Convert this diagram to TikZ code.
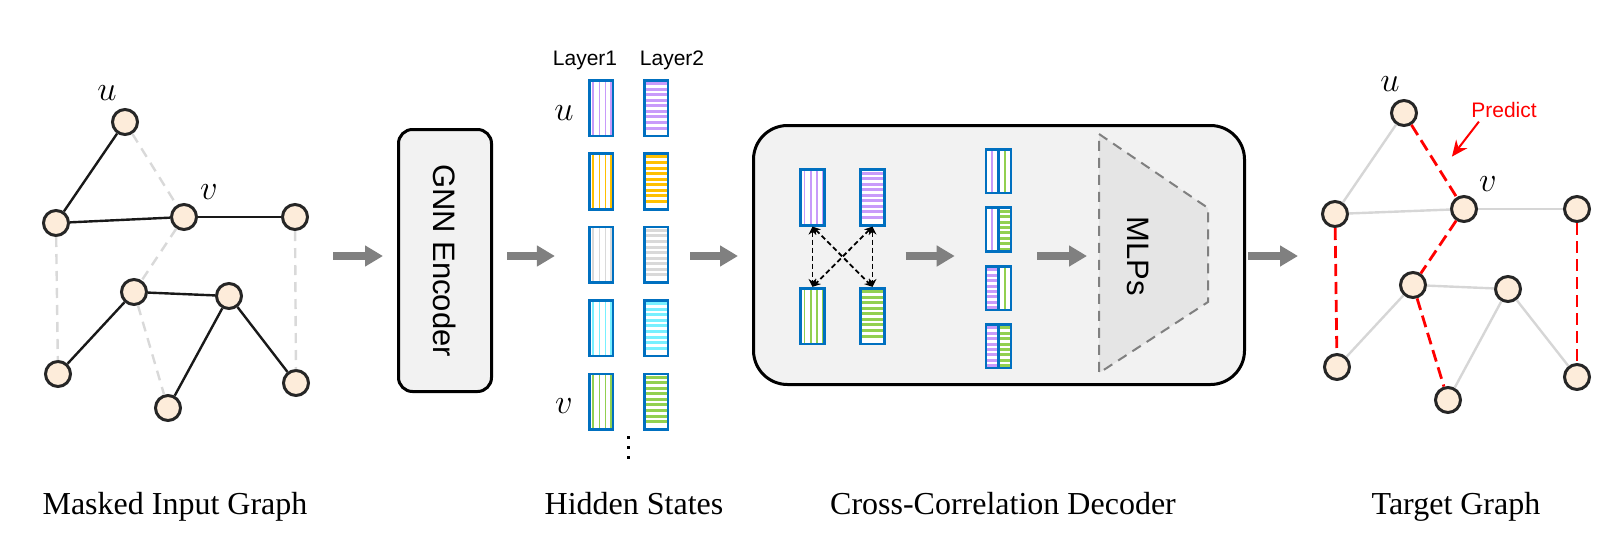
\documentclass[tikz,border=0pt]{standalone}
\usepackage{fontspec}
\setmainfont{Liberation Serif}
\setsansfont{Liberation Sans}
\usepackage{tikz}
\usetikzlibrary{arrows.meta, calc}
\definecolor{vecblue}{RGB}{0,112,192}
\definecolor{lpurple}{RGB}{200,155,250}
\definecolor{lorange}{RGB}{255,192,0}
\definecolor{lgray}{RGB}{217,217,217}
\definecolor{lcyan}{RGB}{120,240,255}
\definecolor{lgreen}{RGB}{146,208,80}
\definecolor{nodefill}{RGB}{253,236,218}
\definecolor{boxfill}{RGB}{242,242,242}
\definecolor{mlpfill}{RGB}{229,229,229}
\definecolor{pfeilgray}{RGB}{128,128,128}
\definecolor{edgegray}{RGB}{214,214,214}
\definecolor{predred}{RGB}{255,0,0}

\tikzset{
  gnode/.style={circle, draw=black!85, line width=1.5pt, fill=nodefill, minimum size=12.5pt, inner sep=0pt},
  solidedge/.style={line width=1.2pt, black!90},
  maskedge/.style={line width=1.2pt, lgray, dash pattern=on 5pt off 3.5pt},
  keptedge/.style={line width=1.2pt, edgegray},
  prededge/.style={line width=1.4pt, predred, dash pattern=on 6pt off 3pt},
  mathlabel/.style={inner sep=0pt, font=\fontsize{17}{20}\selectfont},
  vec/.style={draw=vecblue, line width=1.3pt, fill=white, minimum width=11.8pt, minimum height=27.8pt, inner sep=0pt},
  vstripe/.style={vec, path picture={
      \foreach \f in {0.16,0.43,0.69,0.92}
        \draw[#1, line width=0.8pt] ($(path picture bounding box.north west)!\f!(path picture bounding box.north east)$) -- ($(path picture bounding box.south west)!\f!(path picture bounding box.south east)$);
    }},
  hstripe/.style={vec, path picture={
      \foreach \f in {0.06,0.16,...,0.96}
        \draw[#1, line width=1.5pt] ($(path picture bounding box.north west)!\f!(path picture bounding box.south west)$) -- ($(path picture bounding box.north east)!\f!(path picture bounding box.south east)$);
    }},
  half/.style={vec, minimum width=6pt, minimum height=21.8pt},
  vone/.style={half, path picture={
      \draw[#1, line width=0.8pt] (path picture bounding box.north) -- (path picture bounding box.south);
    }},
  hhalf/.style={half, path picture={
      \foreach \f in {0.08,0.205,...,0.96}
        \draw[#1, line width=1.5pt] ($(path picture bounding box.north west)!\f!(path picture bounding box.south west)$) -- ($(path picture bounding box.north east)!\f!(path picture bounding box.south east)$);
    }},
  encbox/.style={draw=black, line width=1.5pt, fill=boxfill, rounded corners=7pt, inner sep=0pt},
  sanslabel/.style={font=\sffamily\fontsize{15.5}{18}\selectfont, inner sep=0pt},
  smalllabel/.style={font=\sffamily\fontsize{10.5}{13}\selectfont, inner sep=0pt, anchor=base},
  caption/.style={font=\fontsize{16}{19}\selectfont, inner sep=0pt, anchor=base},
  bigarrow/.style={pfeilgray, line width=4pt, -{Triangle[length=9pt, width=10pt]}},
  crossarrow/.style={black, line width=0.9pt, dash pattern=on 2.5pt off 1.5pt, {Stealth[length=4pt, width=4pt]}-{Stealth[length=4pt, width=4pt]}},
  predarrow/.style={predred, line width=1pt, -{Stealth[length=8pt, width=7pt]}},
}

\begin{document}
\begin{tikzpicture}[x=0.5pt, y=-0.5pt]
    \useasboundingbox (0,0) rectangle (1622,552);
    \coordinate (axis) at (0,256);

    % masked input graph
    \node[gnode] (lu) at (125,122) {};
    \node[gnode] (la) at (56,223) {};
    \node[gnode] (lv) at (184,217) {};
    \node[gnode] (lr) at (295,217) {};
    \node[gnode] (lm) at (134,292) {};
    \node[gnode] (ln) at (229,296) {};
    \node[gnode] (lbl) at (58,374) {};
    \node[gnode] (lbm) at (168,408) {};
    \node[gnode] (lbr) at (296,383) {};
    \node[mathlabel] (lulab) at (107,93) {$u$};
    \node[mathlabel] (lvlab) at (209,192) {$v$};
    \draw[solidedge] (lu) -- (la);
    \draw[solidedge] (la) -- (lv);
    \draw[solidedge] (lv) -- (lr);
    \draw[solidedge] (lm) -- (ln);
    \draw[solidedge] (lbl) -- (lm);
    \draw[solidedge] (ln) -- (lbm);
    \draw[solidedge] (ln) -- (lbr);
    \draw[maskedge] (lu) -- (lv);
    \draw[maskedge] (la) -- (lbl);
    \draw[maskedge] (lv) -- (lm);
    \draw[maskedge] (lm) -- (lbm);
    \draw[maskedge] (lr) -- (lbr);

    % encoder
    \node[encbox, minimum width=46.5pt, minimum height=131pt] (gnn) at (445,260.5) {};
    \node[sanslabel, rotate=-90] (gnntext) at (gnn) {GNN Encoder};
    \draw[bigarrow, shorten <=12pt, shorten >=7pt] (lr.east |- axis) -- (gnn.west |- axis);

    % hidden states
    \foreach \c [count=\i] in {lpurple,lorange,lgray,lcyan,lgreen} {
        \node[vstripe=\c] (h\i a) at (601,{108+73.4*(\i-1)}) {};
        \node[hstripe=\c] (h\i b) at (656,{108+73.4*(\i-1)}) {};
    }
    \node[smalllabel] (lay1) at (585,65) {Layer1};
    \node[smalllabel] (lay2) at (672,65) {Layer2};
    \node[mathlabel] (hulab) at (564,113) {$u$};
    \node[mathlabel] (hvlab) at (564,406) {$v$};
    \foreach \y in {437,447,457}
        \fill (628,\y) +(-1.5,-1.5) rectangle +(1.5,1.5);
    \draw[bigarrow, shorten <=7pt, shorten >=16.5pt] (gnn.east |- axis) -- (h3a.west |- axis);

    % cross-correlation decoder
    \node[encbox, rounded corners=17pt, minimum width=245.5pt, minimum height=129.5pt] (dec) at (999,255) {};
    \draw[bigarrow, shorten <=10.5pt, shorten >=7pt] (h3b.east |- axis) -- (dec.west |- axis);
    \node[vstripe=lpurple] (da) at (812.5,197.5) {};
    \node[hstripe=lpurple] (db) at (872.5,197.5) {};
    \node[vstripe=lgreen] (dc) at (812.5,316) {};
    \node[hstripe=lgreen] (dd) at (872.5,316) {};
    \draw[crossarrow] (da.south) -- (dc.north);
    \draw[crossarrow] (da.south) -- (dd.north);
    \draw[crossarrow] (db.south) -- (dc.north);
    \draw[crossarrow] (db.south) -- (dd.north);

    \node[vone=lpurple] (p1a) at (992,171) {};
    \node[vone=lgreen] (p1b) at (1005,171) {};
    \node[vone=lpurple] (p2a) at (992,229.5) {};
    \node[hhalf=lgreen] (p2b) at (1005,229.5) {};
    \node[hhalf=lpurple] (p3a) at (992,288) {};
    \node[vone=lgreen] (p3b) at (1005,288) {};
    \node[hhalf=lpurple] (p4a) at (992,346) {};
    \node[hhalf=lgreen] (p4b) at (1005,346) {};
    \draw[bigarrow, shorten <=10pt, shorten >=15pt] (db.east |- axis) -- (p2a.west |- axis);

    \coordinate (mlp1) at (1099,134);
    \coordinate (mlp2) at (1208,208);
    \coordinate (mlp3) at (1208,302);
    \coordinate (mlp4) at (1099,373);
    \draw[fill=mlpfill, draw=pfeilgray, line width=1pt, dash pattern=on 5pt off 3.5pt] (mlp1) -- (mlp2) -- (mlp3) -- (mlp4) -- cycle;
    \node[sanslabel, rotate=-90] (mlptext) at (1138,256) {MLPs};
    \draw[bigarrow, shorten <=12.5pt, shorten >=6pt] (p2b.east |- axis) -- (mlp1 |- axis);

    % target graph
    \node[gnode] (tu) at (1404,113) {};
    \node[gnode] (ta) at (1335,214) {};
    \node[gnode] (tv) at (1464,209) {};
    \node[gnode] (tr) at (1577,209) {};
    \node[gnode] (tm) at (1413,285) {};
    \node[gnode] (tn) at (1508,289) {};
    \node[gnode] (tbl) at (1337,367) {};
    \node[gnode] (tbm) at (1448,400) {};
    \node[gnode] (tbr) at (1577,377) {};
    \node[mathlabel] (tulab) at (1390,84) {$u$};
    \node[mathlabel] (tvlab) at (1488,184) {$v$};
    \draw[keptedge] (tu) -- (ta);
    \draw[keptedge] (ta) -- (tv);
    \draw[keptedge] (tv) -- (tr);
    \draw[keptedge] (tm) -- (tn);
    \draw[keptedge] (tbl) -- (tm);
    \draw[keptedge] (tn) -- (tbm);
    \draw[keptedge] (tn) -- (tbr);
    \draw[prededge] (tu) -- (tv);
    \draw[prededge] (ta) -- (tbl);
    \draw[prededge] (tv) -- (tm);
    \draw[prededge] (tm) -- (tbm);
    \draw[prededge] (tr) -- (tbr);
    \node[smalllabel, text=predred] (pred) at (1504,117) {Predict};
    \draw[predarrow] ([xshift=4pt, yshift=-2pt]pred.south west) -- ++(-27,35);
    \draw[bigarrow, shorten <=1pt, shorten >=11.5pt] (dec.east |- axis) -- (ta.west |- axis);

    % captions
    \node[caption] (cap1) at (175,514) {Masked Input Graph};
    \node[caption] (cap2) at (634,514) {Hidden States};
    \node[caption] (cap3) at (1003,514) {Cross-Correlation Decoder};
    \node[caption] (cap4) at (1456,514) {Target Graph};

\end{tikzpicture}
\end{document}
